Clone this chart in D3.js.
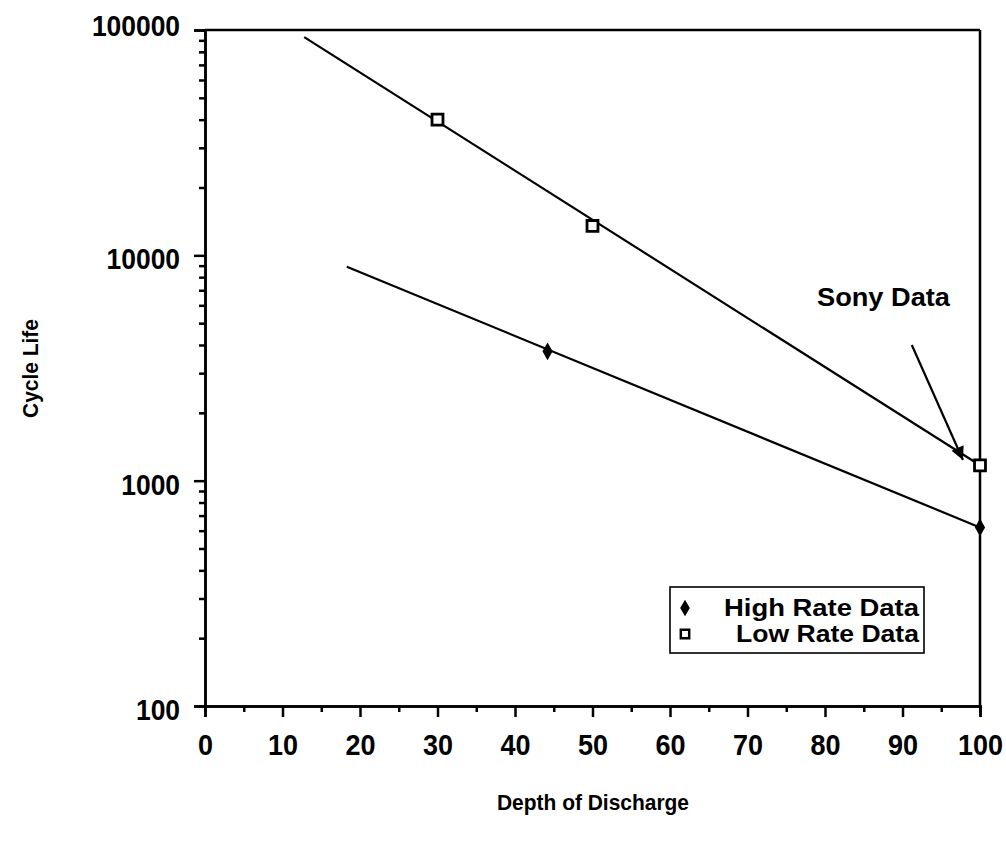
<!DOCTYPE html>
<html lang="en">
<head>
<meta charset="utf-8">
<title>Cycle Life vs Depth of Discharge</title>
<script src="https://cdnjs.cloudflare.com/ajax/libs/d3/7.8.5/d3.min.js"></script>
<style>
  body { margin: 0; background: #fff; font-family: "Liberation Sans", Arial, sans-serif; }
  svg { display: block; }
  .tick text { font-family: "Liberation Sans", Arial, sans-serif; font-weight: bold; fill: #000; }
</style>
</head>
<body>
<svg></svg>
<script>
// data
var lowRateDoD = [30, 50, 100];
var lowRateLife = [40000, 13500, 1170];
var highRateDoD = [44.2, 100];
var highRateLife = [3750, 620];

// fitted lines (end points)
var lowFitDoD = [12.8, 100];
var lowFitLife = [93000, 1170];
var highFitDoD = [18.3, 100];
var highFitLife = [8900, 620];

var xMajorTicks = [0, 10, 20, 30, 40, 50, 60, 70, 80, 90, 100];
var xMinorTicks = [5, 15, 25, 35, 45, 55, 65, 75, 85, 95];
var yMajorTicks = [100, 1000, 10000, 100000];
var yMinorTicks = [];
[100, 1000, 10000].forEach(function(d) {
  for (var k = 2; k <= 9; k++) yMinorTicks.push(d * k);
});

var legendLabels = ["High Rate Data", "Low Rate Data"];
var annotationText = "Sony Data";
var arrowFrom = [91.2, 4000];   // [DoD, cycles]
var arrowTo = [97.8, 1235];

var width = 1006, height = 853;
var svg = d3.select("svg").attr("width", width).attr("height", height);

var x = d3.scaleLinear().domain([0, 100]).range([205, 980]);
var y = d3.scaleLog().domain([100, 100000]).range([706, 30]);

// axes
var xMinor = d3.axisBottom(x).tickValues(xMinorTicks).tickSize(6).tickFormat("");
var xMajor = d3.axisBottom(x).tickValues(xMajorTicks).tickSize(11).tickPadding(17)
               .tickFormat(d3.format("d"));
var yMinor = d3.axisLeft(y).tickValues(yMinorTicks).tickSize(6).tickFormat("");
var yMajor = d3.axisLeft(y).tickValues(yMajorTicks).tickSize(11).tickPadding(14)
               .tickFormat(d3.format("d"));

svg.append("g").attr("transform", "translate(0,706)").call(xMinor);
var gx = svg.append("g").attr("transform", "translate(0,706)").call(xMajor);
svg.append("g").attr("transform", "translate(205,0)").call(yMinor);
var gy = svg.append("g").attr("transform", "translate(205,0)").call(yMajor);

svg.selectAll(".domain").attr("stroke", "#000").attr("stroke-width", 2.5);
svg.selectAll(".tick line").attr("stroke", "#000").attr("stroke-width", 2.5);
// the scanned labels are taller than wide
gx.selectAll(".tick text").style("font-size", "30px").attr("transform", "scale(0.9,1)");
gy.selectAll(".tick text").style("font-size", "30px")
  .attr("transform", d => "translate(-25," + (d === 100000 ? -4 : 4) + ") scale(0.88,1) translate(25,0)");

// top and right frame
svg.append("line").attr("x1", x(0)).attr("x2", x(100)).attr("y1", y(100000)).attr("y2", y(100000))
  .attr("stroke", "#000").attr("stroke-width", 2.5);
svg.append("line").attr("x1", x(100)).attr("x2", x(100)).attr("y1", y(100000)).attr("y2", y(100))
  .attr("stroke", "#000").attr("stroke-width", 2.5);

// fit lines
var line = d3.line().x(d => x(d[0])).y(d => y(d[1]));
svg.append("path").datum(d3.zip(lowFitDoD, lowFitLife)).attr("d", line)
  .attr("fill", "none").attr("stroke", "#000").attr("stroke-width", 2.2);
svg.append("path").datum(d3.zip(highFitDoD, highFitLife)).attr("d", line)
  .attr("fill", "none").attr("stroke", "#000").attr("stroke-width", 2.2);

// markers
var square = d3.symbol().type(d3.symbolSquare).size(120);
var diamond = d3.symbol().type(d3.symbolDiamond).size(90);

svg.selectAll(".low").data(d3.zip(lowRateDoD, lowRateLife)).enter()
  .append("path").attr("class", "low")
  .attr("transform", d => "translate(" + x(d[0]) + "," + y(d[1]) + ")")
  .attr("d", square).attr("fill", "#fff").attr("stroke", "#000").attr("stroke-width", 2.8);

svg.selectAll(".high").data(d3.zip(highRateDoD, highRateLife)).enter()
  .append("path").attr("class", "high")
  .attr("transform", d => "translate(" + x(d[0]) + "," + y(d[1]) + ")")
  .attr("d", diamond).attr("fill", "#000");

// axis titles
svg.append("text")
  .attr("x", 497).attr("y", 810)
  .attr("textLength", 192).attr("lengthAdjust", "spacingAndGlyphs")
  .style("font-size", "22px").style("font-weight", "bold")
  .text("Depth of Discharge");

svg.append("text")
  .attr("transform", "rotate(-90)")
  .attr("x", -418).attr("y", 38)
  .attr("textLength", 99).attr("lengthAdjust", "spacingAndGlyphs")
  .style("font-size", "22px").style("font-weight", "bold")
  .text("Cycle Life");

// annotation
svg.append("defs").append("marker")
  .attr("id", "arrow").attr("viewBox", "0 0 10 10")
  .attr("refX", 10).attr("refY", 5)
  .attr("markerWidth", 11).attr("markerHeight", 6)
  .attr("markerUnits", "strokeWidth")
  .attr("orient", "auto")
  .append("path").attr("d", "M0,0 L10,5 L0,10 Z").attr("fill", "#000");

svg.append("line")
  .attr("x1", x(arrowFrom[0])).attr("y1", y(arrowFrom[1]))
  .attr("x2", x(arrowTo[0])).attr("y2", y(arrowTo[1]))
  .attr("stroke", "#000").attr("stroke-width", 2.2)
  .attr("marker-end", "url(#arrow)");

svg.append("text")
  .attr("x", 817).attr("y", 306)
  .attr("textLength", 133).attr("lengthAdjust", "spacingAndGlyphs")
  .style("font-size", "25px").style("font-weight", "bold")
  .text(annotationText);

// legend
var legend = svg.append("g").attr("transform", "translate(670,587)");
legend.append("rect").attr("width", 254).attr("height", 66)
  .attr("fill", "#fff").attr("stroke", "#000").attr("stroke-width", 1.6);
legend.append("path").attr("transform", "translate(15,21)")
  .attr("d", d3.symbol().type(d3.symbolDiamond).size(80)).attr("fill", "#000");
legend.append("path").attr("transform", "translate(15,47)")
  .attr("d", d3.symbol().type(d3.symbolSquare).size(70))
  .attr("fill", "#fff").attr("stroke", "#000").attr("stroke-width", 2.5);
legend.selectAll(".lbl").data(legendLabels).enter()
  .append("text").attr("class", "lbl")
  .attr("x", (d, i) => i === 0 ? 54 : 66)
  .attr("y", (d, i) => 29 + i * 26)
  .attr("textLength", (d, i) => i === 0 ? 195 : 183)
  .attr("lengthAdjust", "spacingAndGlyphs")
  .style("font-size", "24px").style("font-weight", "bold")
  .text(d => d);
</script>
</body>
</html>
